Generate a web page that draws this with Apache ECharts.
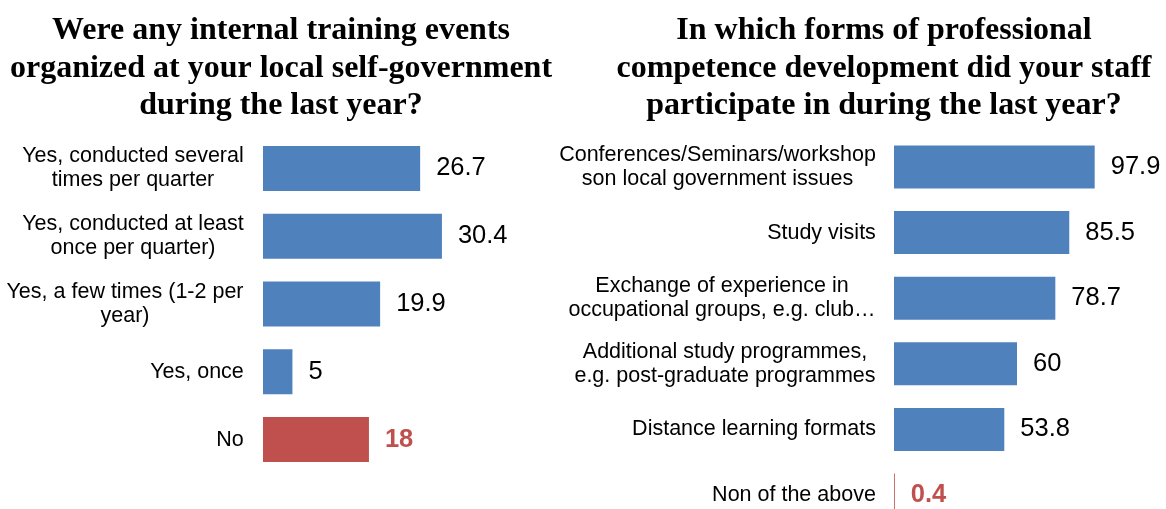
<!DOCTYPE html>
<html>
<head>
<meta charset="utf-8">
<script src="https://cdn.jsdelivr.net/npm/echarts@6/dist/echarts.min.js"></script>
<style>
  html, body { margin: 0; padding: 0; background: #fff; }
  #chart { width: 1166px; height: 509px; }
</style>
</head>
<body>
<div id="chart"></div>
<script>
var leftTitle = 'Were any internal training events\norganized at your local self-government\nduring the last year?';
var rightTitle = 'In which forms of professional\ncompetence development did your staff\nparticipate in during the last year?';

var leftCats = [
  'Yes, conducted several\ntimes per quarter',
  'Yes, conducted at least\nonce per quarter)',
  'Yes, a few times (1-2 per\nyear)',
  'Yes, once',
  'No'
];
var leftVals = [26.7, 30.4, 19.9, 5, 18];

var rightCats = [
  'Conferences/Seminars/workshop\nson local government issues',
  'Study visits',
  'Exchange of experience in\noccupational groups, e.g. club\u2026',
  'Additional study programmes,\ne.g. post-graduate programmes',
  'Distance learning formats',
  'Non of the above'
];
var rightVals = [97.9, 85.5, 78.7, 60, 53.8, 0.4];

var BLUE = '#4F81BD';
var RED = '#C0504D';
var SANS = '"Liberation Sans", Arial, sans-serif';
var SERIF = '"Liberation Serif", "Times New Roman", serif';
var LABEL_SIZE = 21.5;

// multi-line category labels: lines centred inside a block that is right-aligned to the bars
var ctx = document.createElement('canvas').getContext('2d');
ctx.font = LABEL_SIZE + 'px "Liberation Sans"';
var rich = {};
function blockKey(c) {
  var w = 0;
  c.split('\n').forEach(function (l) { w = Math.max(w, ctx.measureText(l).width); });
  return { key: 'w' + Math.ceil(w), w: Math.ceil(w) };
}
leftCats.concat(rightCats).forEach(function (c) {
  var b = blockKey(c);
  rich[b.key] = { width: b.w, align: 'center', fontSize: LABEL_SIZE, lineHeight: 24, fontFamily: SANS, color: '#000' };
});
function catLabel(v) {
  var key = blockKey(v).key;
  return v.split('\n').map(function (l) { return '{' + key + '|' + l + '}'; }).join('\n');
}

function barData(vals) {
  return vals.map(function (v, i) {
    var last = i === vals.length - 1;
    return {
      value: v,
      itemStyle: { color: last ? RED : BLUE },
      label: last ? { color: RED, fontWeight: 'bold' } : {}
    };
  });
}

function yAx(idx, cats, margin) {
  return {
    type: 'category', gridIndex: idx, data: cats, inverse: true,
    axisLine: { show: false }, axisTick: { show: false }, splitLine: { show: false },
    axisLabel: { margin: margin, formatter: catLabel, rich: rich, fontSize: LABEL_SIZE, fontFamily: SANS, color: '#000' }
  };
}

function xAx(idx, max) {
  return {
    type: 'value', gridIndex: idx, min: 0, max: max, show: false,
    splitLine: { show: false }
  };
}

function bars(idx, vals, barW) {
  return {
    type: 'bar', xAxisIndex: idx, yAxisIndex: idx,
    barWidth: barW,
    data: barData(vals),
    label: { show: true, position: 'right', distance: 16, fontSize: 25.5, fontFamily: SANS, color: '#000' }
  };
}

var titleStyle = { fontFamily: SERIF, fontWeight: 'bold', fontSize: 32, lineHeight: 37.5, color: '#000' };

var chart = echarts.init(document.getElementById('chart'), null, { renderer: 'canvas' });
chart.setOption({
  animation: false,
  backgroundColor: '#fff',
  title: [
    { text: leftTitle, left: 281, top: 12, textAlign: 'center', padding: 0, textStyle: titleStyle },
    { text: rightTitle, left: 884, top: 12, textAlign: 'center', padding: 0, textStyle: titleStyle }
  ],
  grid: [
    { left: 263, top: 134.5, width: 206, height: 339, outerBoundsMode: 'none', containLabel: false },
    { left: 894, top: 134.2, width: 205, height: 393.6, outerBoundsMode: 'none', containLabel: false }
  ],
  xAxis: [xAx(0, 35), xAx(1, 100)],
  yAxis: [yAx(0, leftCats, 19), yAx(1, rightCats, 18)],
  series: [bars(0, leftVals, 45), bars(1, rightVals, 43)]
});
</script>
</body>
</html>
